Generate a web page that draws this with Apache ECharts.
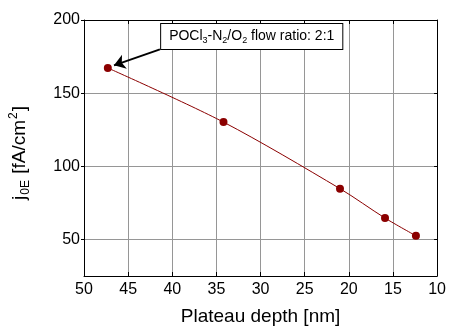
<!DOCTYPE html>
<html>
<head>
<meta charset="utf-8">
<script src="https://cdn.jsdelivr.net/npm/echarts@6/dist/echarts.min.js"></script>
<style>html,body{margin:0;padding:0;background:#fff}#c{width:449px;height:331px}</style>
</head>
<body>
<div id="c"></div>
<script>
const depth = [47.3, 34.2, 21.0, 15.9, 12.4];
const j0e = [167.2, 130.2, 84.7, 64.6, 52.5];
const xTicks = [50, 45, 40, 35, 30, 25, 20, 15, 10];
const yTicks = [50, 100, 150, 200];
const annotationText = ['POCl', '3', '-N', '2', '/O', '2', ' flow ratio: 2:1'];
const annotationBox = [31.0, 188.8];
const arrowFrom = [41.4, 179.9];
const arrowTo = [46.6, 169.0];

const FONT = 'Liberation Sans, Arial, sans-serif';
const chart = echarts.init(document.getElementById('c'), null, {renderer: 'canvas'});

const annRich = annotationText.map((t, i) => i % 2 === 1 ? '{s|' + t + '}' : '{n|' + t + '}').join('');

const option = {
  animation: false,
  backgroundColor: '#fff',
  grid: {left: 84, right: 9, top: 20, bottom: 49, containLabel: false},
  xAxis: [{
    type: 'value', min: 10, max: 50, interval: 5, inverse: true,
    axisLine: {show: true, lineStyle: {color: '#000', width: 1}},
    axisTick: {show: true, inside: true, length: 4, lineStyle: {color: '#000'}},
    axisLabel: {color: '#000', fontSize: 16, fontFamily: FONT, margin: 6},
    splitLine: {show: true, lineStyle: {color: '#969696', width: 1}},
    name: 'Plateau depth [nm]', nameLocation: 'middle', nameGap: 31,
    nameTextStyle: {color: '#000', fontSize: 19, fontFamily: FONT}
  }, {
    type: 'value', min: 10, max: 50, interval: 5, inverse: true, position: 'top',
    axisLine: {show: true, lineStyle: {color: '#000', width: 1}},
    axisTick: {show: true, inside: true, length: 4, lineStyle: {color: '#000'}},
    axisLabel: {show: false}, splitLine: {show: false}
  }],
  yAxis: [{
    type: 'value', min: 25, max: 200,
    axisLine: {show: true, lineStyle: {color: '#000', width: 1}},
    axisTick: {show: true, inside: false, length: 3, customValues: yTicks, lineStyle: {color: '#000'}},
    axisLabel: {color: '#000', fontSize: 16, fontFamily: FONT, margin: 4, customValues: yTicks},
    splitLine: {show: true, customValues: yTicks, lineStyle: {color: '#969696', width: 1}},
    name: '{n|j}{s|0E}{n| [fA/cm}{p|2}{n|]}', nameLocation: 'middle', nameGap: 52, nameRotate: 90,
    nameTextStyle: {
      color: '#000', fontFamily: FONT, padding: [0, 10, 0, 0],
      rich: {
        n: {fontSize: 19, fontFamily: FONT, color: '#000', lineHeight: 24},
        s: {fontSize: 12, fontFamily: FONT, color: '#000', verticalAlign: 'bottom', lineHeight: 16, padding: [8, 1, 0, 1]},
        p: {fontSize: 12, fontFamily: FONT, color: '#000', verticalAlign: 'top', lineHeight: 14, padding: [0, 1, 8, 1]}
      }
    }
  }, {
    type: 'value', min: 25, max: 200, position: 'right',
    axisLine: {show: true, lineStyle: {color: '#000', width: 1}},
    axisTick: {show: true, inside: true, length: 3, customValues: yTicks, lineStyle: {color: '#000'}},
    axisLabel: {show: false}, splitLine: {show: false}
  }],
  series: [{
    type: 'line',
    data: depth.map((d, i) => [d, j0e[i]]),
    smooth: 0.3,
    symbol: 'circle', symbolSize: 8,
    itemStyle: {color: '#8b0000'},
    lineStyle: {color: '#8b0000', width: 1},
    z: 5,
    markLine: {
      silent: true, animation: false,
      symbol: ['none', 'arrow'], symbolSize: 11,
      lineStyle: {color: '#000', width: 2, type: 'solid'},
      itemStyle: {color: '#000'},
      label: {show: false},
      data: [[{coord: arrowFrom}, {coord: arrowTo}]]
    },
    markPoint: {
      silent: true, symbol: 'rect', symbolSize: 1, itemStyle: {color: 'rgba(0,0,0,0)'},
      data: [{coord: annotationBox}],
      label: {
        show: true, position: 'inside', formatter: annRich,
        backgroundColor: '#fff', borderColor: '#000', borderWidth: 1,
        padding: [4, 8, 4, 8],
        rich: {
          n: {fontSize: 14, fontFamily: FONT, color: '#000', lineHeight: 17},
          s: {fontSize: 9, fontFamily: FONT, color: '#000', verticalAlign: 'bottom', lineHeight: 12, padding: [5, 0, 0, 0]}
        }
      }
    }
  }]
};
chart.setOption(option);
</script>
</body>
</html>
